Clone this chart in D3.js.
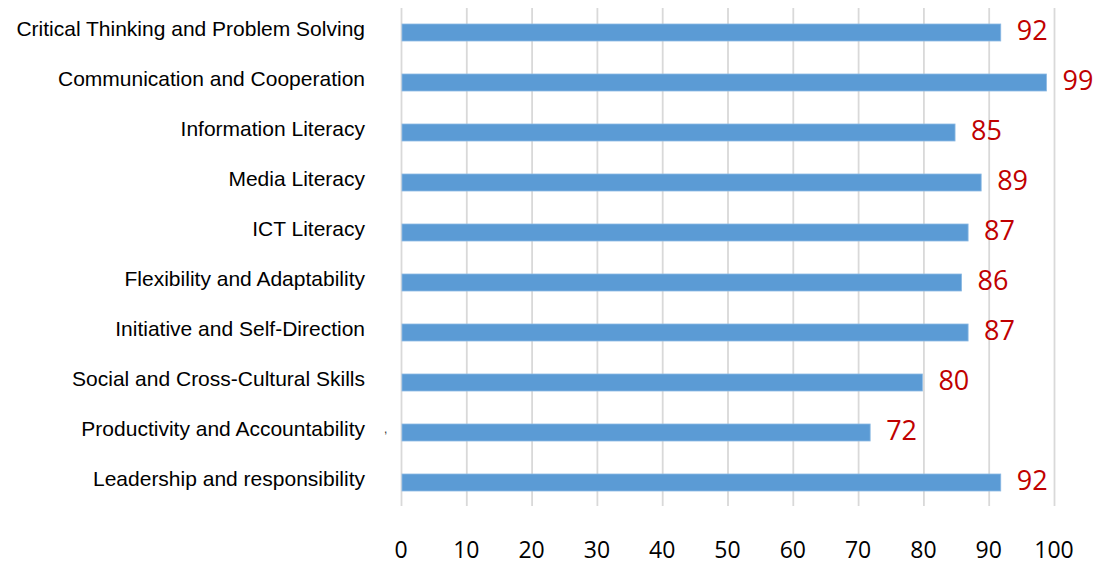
<!DOCTYPE html>
<html>
<head>
    <script src="https://cdnjs.cloudflare.com/ajax/libs/d3/7.8.5/d3.min.js"></script>
    <style>
        body { margin: 0; padding: 0; background: #fff; }
    </style>
</head>
<body>
    <svg id="chart" width="1101" height="565"></svg>
    <script>
        const skills = [
            'Critical Thinking and Problem Solving',
            'Communication and Cooperation',
            'Information Literacy',
            'Media Literacy',
            'ICT Literacy',
            'Flexibility and Adaptability',
            'Initiative and Self-Direction',
            'Social and Cross-Cultural Skills',
            'Productivity and Accountability',
            'Leadership and responsibility'
        ];
        const scores = [92, 99, 85, 89, 87, 86, 87, 80, 72, 92];
        const xTicks = [0, 10, 20, 30, 40, 50, 60, 70, 80, 90, 100];

        const svg = d3.select('#chart');

        const x = d3.scaleLinear().domain([0, 100]).range([401, 1054]);
        const y = d3.scaleBand().domain(skills).range([7.5, 507.5]).paddingInner(0.66).paddingOuter(0.33);

        // gridlines
        svg.append('g')
            .selectAll('line')
            .data(xTicks)
            .join('line')
            .attr('x1', d => x(d) + 0.5)
            .attr('x2', d => x(d) + 0.5)
            .attr('y1', 8)
            .attr('y2', 506)
            .attr('stroke', '#d9d9d9')
            .attr('stroke-width', 1.8);

        // bars
        svg.append('g')
            .selectAll('rect')
            .data(skills)
            .join('rect')
            .attr('x', x(0) + 1)
            .attr('y', d => y(d))
            .attr('width', (d, i) => x(scores[i]) - x(0) - 2)
            .attr('height', y.bandwidth())
            .attr('fill', '#5b9bd5')
            .attr('stroke', '#8cb9e3')
            .attr('stroke-width', 0.8);

        // category labels
        svg.append('g')
            .selectAll('text')
            .data(skills)
            .join('text')
            .attr('x', 365)
            .attr('y', d => y(d) + y.bandwidth() / 2 - 4)
            .attr('dy', '0.35em')
            .attr('text-anchor', 'end')
            .attr('font-family', '"Liberation Sans", Arial, sans-serif')
            .attr('font-size', '21px')
            .attr('fill', '#000')
            .text(d => d);

        // value labels
        svg.append('g')
            .selectAll('text')
            .data(skills)
            .join('text')
            .attr('x', (d, i) => x(scores[i]) + 15)
            .attr('y', d => y(d) + y.bandwidth() / 2 - 2)
            .attr('dy', '0.36em')
            .attr('font-family', '"Open Sans", sans-serif')
            .attr('font-size', '27px')
            .attr('fill', '#c00000')
            .text((d, i) => scores[i]);

        // stray mark beside the Productivity row
        svg.append('text')
            .attr('x', 384)
            .attr('y', y(skills[8]) + y.bandwidth() / 2)
            .attr('font-family', '"Liberation Sans", Arial, sans-serif')
            .attr('font-size', '12px')
            .attr('fill', '#333')
            .text(',');

        // x axis tick labels
        svg.append('g')
            .selectAll('text')
            .data(xTicks)
            .join('text')
            .attr('x', d => x(d))
            .attr('y', 550)
            .attr('dy', '0.36em')
            .attr('text-anchor', 'middle')
            .attr('font-family', '"Open Sans", sans-serif')
            .attr('font-size', '23px')
            .attr('fill', '#000')
            .text(d => d);
    </script>
</body>
</html>
